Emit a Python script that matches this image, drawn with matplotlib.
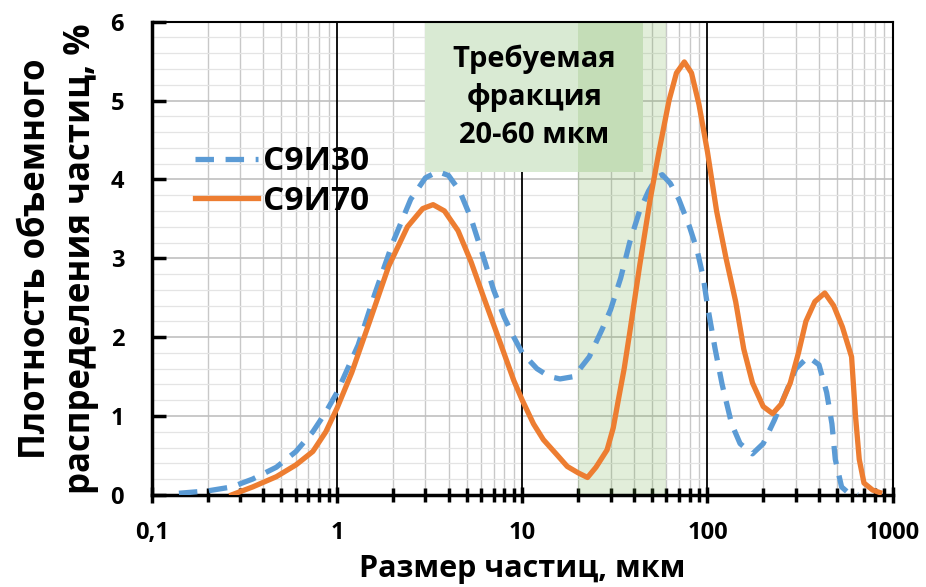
import matplotlib
matplotlib.use('Agg')
import matplotlib.pyplot as plt
from matplotlib.patches import Rectangle
from matplotlib.ticker import FixedLocator, NullFormatter, MultipleLocator

plt.rcParams['font.family'] = ['Open Sans', 'DejaVu Sans']
plt.rcParams['font.weight'] = 'bold'

# Данные
x_c9i30 = [0.14, 0.2, 0.27, 0.35, 0.47, 0.6, 0.74, 0.87, 1.0, 1.3, 1.6, 2.0, 2.5, 3.0, 3.5,
           4.0, 4.6, 5.3, 6.2, 7.0, 8.0, 9.0, 10, 12, 14, 16, 19, 23, 27, 30, 34, 38, 43,
           48, 53, 57, 63, 70, 80, 88, 95, 100, 110, 120, 135, 150, 175, 200, 230, 260,
           300, 350, 400, 440, 470, 490, 530, 580, 650]
y_c9i30 = [0.02, 0.05, 0.1, 0.2, 0.35, 0.55, 0.8, 1.05, 1.3, 1.9, 2.55, 3.2, 3.75, 4.02, 4.1,
           4.05, 3.85, 3.5, 3.0, 2.6, 2.25, 2.0, 1.8, 1.6, 1.5, 1.47, 1.5, 1.75, 2.1, 2.35,
           2.75, 3.2, 3.6, 3.85, 4.02, 4.06, 3.95, 3.75, 3.4, 3.1, 2.75, 2.4, 1.85, 1.4, 0.9,
           0.65, 0.52, 0.65, 0.95, 1.25, 1.6, 1.75, 1.65, 1.3, 0.9, 0.45, 0.1, 0.02, 0.0]

x_c9i70 = [0.27, 0.35, 0.47, 0.6, 0.74, 0.87, 1.0, 1.2, 1.5, 1.9, 2.4, 2.9, 3.3, 3.8, 4.5,
           5.3, 6.2, 7.6, 9.0, 10, 11.5, 13, 15.5, 17.5, 20, 22.5, 25, 28.7, 31, 33, 35.5,
           38, 43, 49, 55, 62, 68, 75, 82, 90, 100, 112, 126, 142, 157, 175, 200, 225, 250,
           280, 310, 340, 380, 430, 480, 535, 600, 630, 660, 700, 780, 850]
y_c9i70 = [0.0, 0.1, 0.23, 0.38, 0.55, 0.8, 1.1, 1.55, 2.2, 2.9, 3.4, 3.63, 3.68, 3.6, 3.35,
           2.95, 2.5, 1.93, 1.45, 1.2, 0.9, 0.7, 0.5, 0.36, 0.28, 0.22, 0.35, 0.57, 0.85,
           1.2, 1.6, 2.05, 2.9, 3.74, 4.38, 5.0, 5.35, 5.49, 5.35, 4.95, 4.35, 3.6, 3.0,
           2.45, 1.85, 1.42, 1.12, 1.03, 1.15, 1.42, 1.8, 2.2, 2.45, 2.56, 2.4, 2.13, 1.75,
           1.0, 0.45, 0.15, 0.06, 0.03]

x_ticks = [0.1, 1, 10, 100, 1000]
x_ticklabels = ['0,1', '1', '10', '100', '1000']

fig = plt.figure(figsize=(9.26, 5.87), dpi=100)
ax = fig.add_axes([0.164, 0.157, 0.8, 0.806])

ax.set_xscale('log')
ax.set_xlim(0.1, 1000)
ax.set_ylim(0, 6)

# сетка
minors = [m * 10.0 ** e for e in range(-1, 3) for m in range(2, 10)]
ax.xaxis.set_major_locator(FixedLocator(x_ticks))
ax.xaxis.set_minor_locator(FixedLocator(minors))
ax.xaxis.set_minor_formatter(NullFormatter())
ax.set_xticklabels(x_ticklabels)
ax.yaxis.set_major_locator(MultipleLocator(1))
ax.yaxis.set_minor_locator(MultipleLocator(0.2))

ax.grid(which='minor', axis='x', color='#c8c8c8', lw=1.0, zorder=0)
ax.grid(which='major', axis='y', color='#c0c0c0', lw=1.2, zorder=0)
ax.grid(which='minor', axis='y', color='#e4e4e4', lw=0.9, zorder=0)
ax.set_axisbelow(True)
for xv in x_ticks[1:-1]:
    ax.axvline(xv, color='black', lw=1.3, zorder=0.8)

# рамка с подписью и полоса 20-60 мкм
ax.add_patch(Rectangle((3.0, 4.1), 42, 1.9, facecolor='#d9ead3', edgecolor='none', zorder=1))
ax.axvspan(20, 60, color='#70ad47', alpha=0.2, lw=0, zorder=1.5)
ax.text(11.6, 5.04, 'Требуемая\nфракция\n20-60 мкм', ha='center', va='center',
        fontsize=21, fontweight='bold', linespacing=1.4, zorder=3)

ax.plot(x_c9i30, y_c9i30, color='#5b9bd5', lw=3.8, ls=(0, (3.5, 2.2)), label='С9И30', zorder=4)
ax.plot(x_c9i70, y_c9i70, color='#ed7d31', lw=3.8, label='С9И70', zorder=5)

ax.legend(loc='center left', bbox_to_anchor=(0.058, 0.662), frameon=False,
          prop={'size': 24, 'weight': 'bold'}, handlelength=1.9, labelspacing=0.2,
          handletextpad=0.15, borderpad=0, borderaxespad=0)

for side in ['left', 'bottom']:
    ax.spines[side].set_linewidth(2.5)
for side in ['top', 'right']:
    ax.spines[side].set_linewidth(1.5)

ax.tick_params(axis='x', which='major', direction='inout', length=12, width=2.5, labelsize=17, pad=13)
ax.tick_params(axis='x', which='minor', direction='inout', length=10, width=2.5)
ax.tick_params(axis='y', which='major', direction='in', length=10, width=2.5, labelsize=17, pad=20)
ax.tick_params(axis='y', which='minor', length=0)
for lbl in ax.get_xticklabels() + ax.get_yticklabels():
    lbl.set_fontweight('bold')

ax.set_xlabel('Размер частиц, мкм', fontsize=22, fontweight='bold')
ax.xaxis.set_label_coords(0.5, -0.124)
ax.set_ylabel('Плотность объемного\nраспределения частиц, %', fontsize=25,
              fontweight='bold', linespacing=1.3)
ax.yaxis.set_label_coords(-0.072, 0.5)

fig.savefig('out.png', dpi=100)
